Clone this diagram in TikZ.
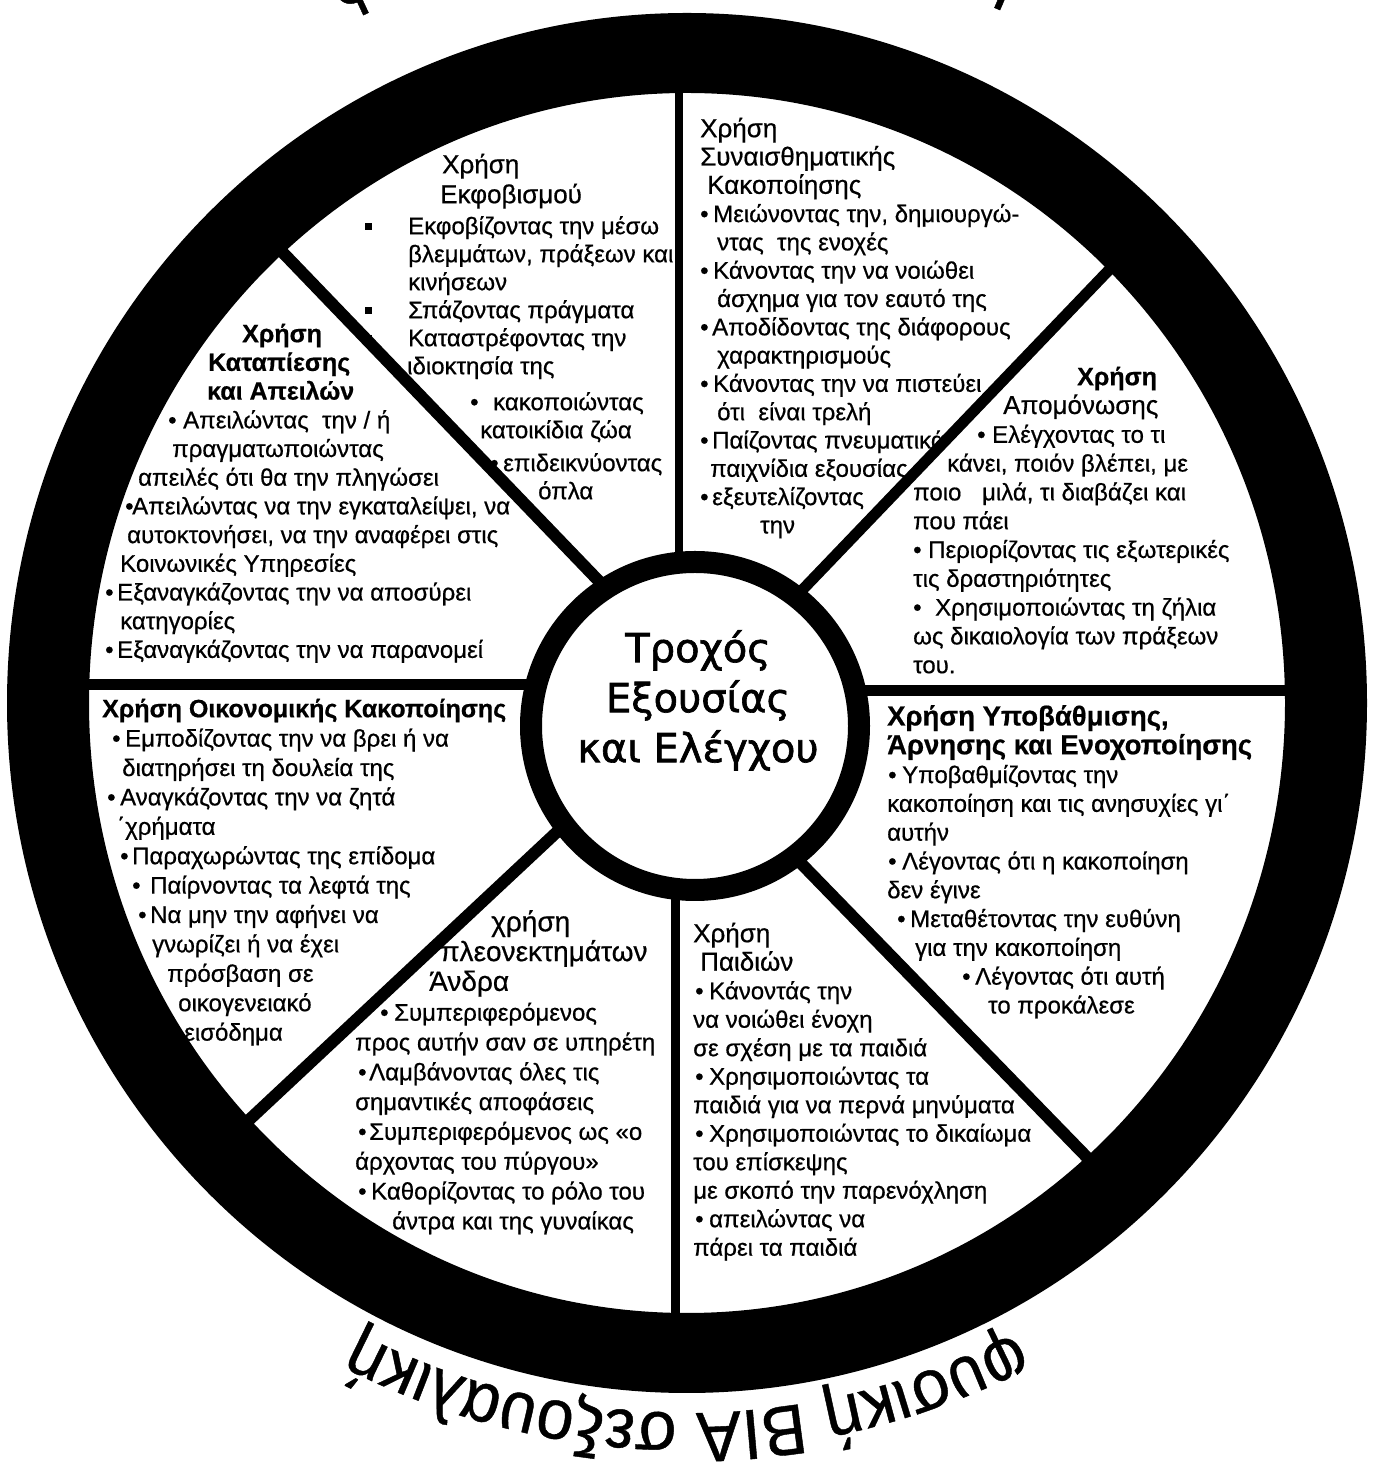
\documentclass[tikz,border=0pt]{standalone}
\usepackage{fontspec}
\setmainfont{Liberation Sans}[FakeBold=0.6]
\newfontfamily\hubfont{DejaVu Sans}[FakeBold=1.6]
\newfontfamily\rimfont{Liberation Sans}[FakeStretch=0.94, FakeBold=0.6]
\usetikzlibrary{decorations.text}

\newcommand{\tp}{\rule{0pt}{20pt}}
\newcommand{\bul}[1]{\makebox[#1][l]{\textbullet}}
\newcommand{\sqb}[1]{\makebox[#1][l]{\rule[4.5pt]{7pt}{7pt}}}
\newcommand{\ttl}[1][26]{\fontsize{#1}{28}\selectfont}
\newcommand{\ttlb}[1][25]{\fontsize{#1}{28}\selectfont\bfseries}

\begin{document}
\begin{tikzpicture}[x=1pt, y=1pt,
  sector/.style={anchor=north west, inner sep=0pt, align=left, font=\fontsize{24}{#1}\selectfont},
  sector/.default=28.5,
  spoke/.style={line width=#1, line cap=butt},
  spoke/.default=11pt,
  ringtext/.style={decorate, decoration={text along path, text align=center,
    text={|\rimfont\fontsize{#1}{#1}\selectfont|φυσική ΒΙΑ σεξουαλική}}},
]
\useasboundingbox (0,0) rectangle (1379,1476);
\fill[white] (0,0) rectangle (1379,1476);

% === SECTORS ===
\node[sector=28] (ekfob) at (365,1323) {%
\tp\hspace*{77pt}{\ttl Χρήση}\\[2pt]
\hspace*{75pt}{\ttl Εκφοβισμού}\\[3pt]
\sqb{43pt}Εκφοβίζοντας την μέσω\\
\hspace*{43pt}βλεμμάτων, πράξεων και\\
\hspace*{43pt}κινήσεων\\
\sqb{43pt}Σπάζοντας πράγματα\\
\sqb{43pt}Καταστρέφοντας την\\
\hspace*{42pt}ιδιοκτησία της\\[8pt]
\hspace*{105pt}\bul{23pt}κακοποιώντας\\
\hspace*{115pt}κατοικίδια ζώα\\[5pt]
\hspace*{125pt}\bul{13pt}επιδεικνύοντας\\
\hspace*{173pt}όπλα};

\node[sector=28.3] (synais) at (700,1359) {%
\tp{\ttl Χρήση}\\
{\ttl Συναισθηματικής}\\
\hspace*{7pt}{\ttl Κακοποίησης}\\
\bul{13pt}Μειώνοντας την, δημιουργώ-\\
\hspace*{17pt}ντας~ της ενοχές\\
\bul{13pt}Κάνοντας την να νοιώθει\\
\hspace*{17pt}άσχημα για τον εαυτό της\\
\bul{12pt}Αποδίδοντας της διάφορους\\
\hspace*{17pt}χαρακτηρισμούς\\
\bul{13pt}Κάνοντας την να πιστεύει\\
\hspace*{17pt}ότι~ είναι τρελή\\
\bul{12pt}Παίζοντας πνευματικά\\
\hspace*{10pt}παιχνίδια εξουσίας\\
\bul{12pt}εξευτελίζοντας\\
\hspace*{60pt}την};

\node[sector=28.8] (apom) at (913,1111) {%
\tp\hspace*{164pt}{\ttlb Χρήση}\\
\hspace*{90pt}{\ttl Απομόνωσης}\\
\hspace*{64pt}\bul{15pt}Ελέγχοντας το τι\\
\hspace*{34pt}κάνει, ποιόν βλέπει, με\\
ποιο\hspace*{14pt} μιλά, τι διαβάζει και\\
που πάει\\
\bul{15pt}Περιορίζοντας τις εξωτερικές\\
τις δραστηριότητες\\
\bul{22pt}Χρησιμοποιώντας τη ζήλια\\
ως δικαιολογία των πράξεων\\
του.};

\node[sector=28.7] (katap) at (105,1154) {%
\tp\hspace*{137pt}{\ttlb Χρήση}\\
\hspace*{103pt}{\ttlb Καταπίεσης}\\
\hspace*{102pt}{\ttlb και Απειλών}\\
\hspace*{63pt}\bul{15pt}Απειλώντας~ την / ή\\
\hspace*{67pt}πραγματωποιώντας\\
\hspace*{33pt}απειλές ότι θα την πληγώσει\\
\hspace*{20pt}\bul{7pt}Απειλώντας να την εγκαταλείψει, να\\
\hspace*{22pt}αυτοκτονήσει, να την αναφέρει στις\\
\hspace*{15pt}Κοινωνικές Υπηρεσίες\\
\bul{12pt}Εξαναγκάζοντας την να αποσύρει\\
\hspace*{15pt}κατηγορίες\\
\bul{12pt}Εξαναγκάζοντας την να παρανομεί};

\node[sector=29.4] (oikon) at (102,779) {%
\tp{\ttlb Χρήση Οικονομικής Κακοποίησης}\\
\hspace*{10pt}\bul{13pt}Εμποδίζοντας την να βρει ή να\\
\hspace*{20pt}διατηρήσει τη δουλεία της\\
\hspace*{5pt}\bul{13pt}Αναγκάζοντας την να ζητά\\
\hspace*{15pt}΄χρήματα\\
\hspace*{18pt}\bul{12pt}Παραχωρώντας της επίδομα\\
\hspace*{30pt}\bul{18pt}Παίρνοντας τα λεφτά της\\
\hspace*{36pt}\bul{12pt}Να μην την αφήνει να\\
\hspace*{50pt}γνωρίζει ή να έχει\\
\hspace*{65pt}πρόσβαση σε\\
\hspace*{76pt}οικογενειακό\\
\hspace*{82pt}εισόδημα};

\node[sector=28.8] (ypov) at (887,771) {%
\tp{\ttlb[27.5]Χρήση Υποβάθμισης,}\\
{\ttlb[27.5]Άρνησης και Ενοχοποίησης}\\
\hspace*{1pt}\bul{14pt}Υποβαθμίζοντας την\\
κακοποίηση και τις ανησυχίες γι΄\\
αυτήν\\
\hspace*{1pt}\bul{14pt}Λέγοντας ότι η κακοποίηση\\
δεν έγινε\\
\hspace*{10pt}\bul{13pt}Μεταθέτοντας την ευθύνη\\
\hspace*{28pt}για την κακοποίηση\\
\hspace*{75pt}\bul{13pt}Λέγοντας ότι αυτή\\
\hspace*{101pt}το προκάλεσε};

\node[sector=29.8] (pleon) at (355,566) {%
\tp\hspace*{136pt}{\ttl[28]χρήση}\\
\hspace*{85pt}{\ttl[28]πλεονεκτημάτων}\\
\hspace*{74pt}{\ttl[28]Άνδρα}\\
\hspace*{25pt}\bul{14pt}Συμπεριφερόμενος\\
προς αυτήν σαν σε υπηρέτη\\
\hspace*{3pt}\bul{11pt}Λαμβάνοντας όλες τις\\
σημαντικές αποφάσεις\\
\hspace*{3pt}\bul{11pt}Συμπεριφερόμενος ως «ο\\
άρχοντας του πύργου»\\
\hspace*{3pt}\bul{13pt}Καθορίζοντας το ρόλο του\\
\hspace*{37pt}άντρα και της γυναίκας};

\node[sector=28.5] (paid) at (693,554) {%
\tp{\ttl Χρήση}\\
\hspace*{7pt}{\ttl Παιδιών}\\
\hspace*{2pt}\bul{14pt}Κάνοντάς την\\
να νοιώθει ένοχη\\
σε σχέση με τα παιδιά\\
\hspace*{2pt}\bul{14pt}Χρησιμοποιώντας τα\\
παιδιά για να περνά μηνύματα\\
\hspace*{2pt}\bul{14pt}Χρησιμοποιώντας το δικαίωμα\\
του επίσκεψης\\
με σκοπό την παρενόχληση\\
\hspace*{2pt}\bul{14pt}απειλώντας να\\
πάρει τα παιδιά};

% === SPOKES ===
\draw[spoke=8pt] (679,916) -- (679,1430);
\draw[spoke=9pt] (675,586) -- (675,100);
\draw[spoke] (540,791) -- (40,791);
\draw[spoke] (850,785) -- (1330,785);
\draw[spoke=12pt] (618,875) -- (264,1243);
\draw[spoke] (785,868) -- (1131,1229);
\draw[spoke=12pt] (574,660) -- (218,327);
\draw[spoke=12pt] (754,661) -- (1110,295);

% === RIM AND HUB ===
\fill[even odd rule] (687,773) ellipse [x radius=680, y radius=690]
  (687,773) ellipse [x radius=598, y radius=610];
\node[circle, draw, line width=22pt, fill=white, minimum size=328pt, inner sep=0pt] (hub) at (695,750) {};
\node[anchor=north, inner sep=0pt, align=center, font=\hubfont\fontsize{40}{50}\selectfont] (title) at (698,846)
  {Τροχός\\Εξουσίας\\και Ελέγχου};

% === TEXT ROUND THE RIM ===
\path[ringtext=72] (687,773) ++(131:775) arc[start angle=131, end angle=51, radius=775];
\path[ringtext=71] (687,773) ++(-50:710) arc[start angle=-50, end angle=-130, radius=710];
\end{tikzpicture}
\end{document}
